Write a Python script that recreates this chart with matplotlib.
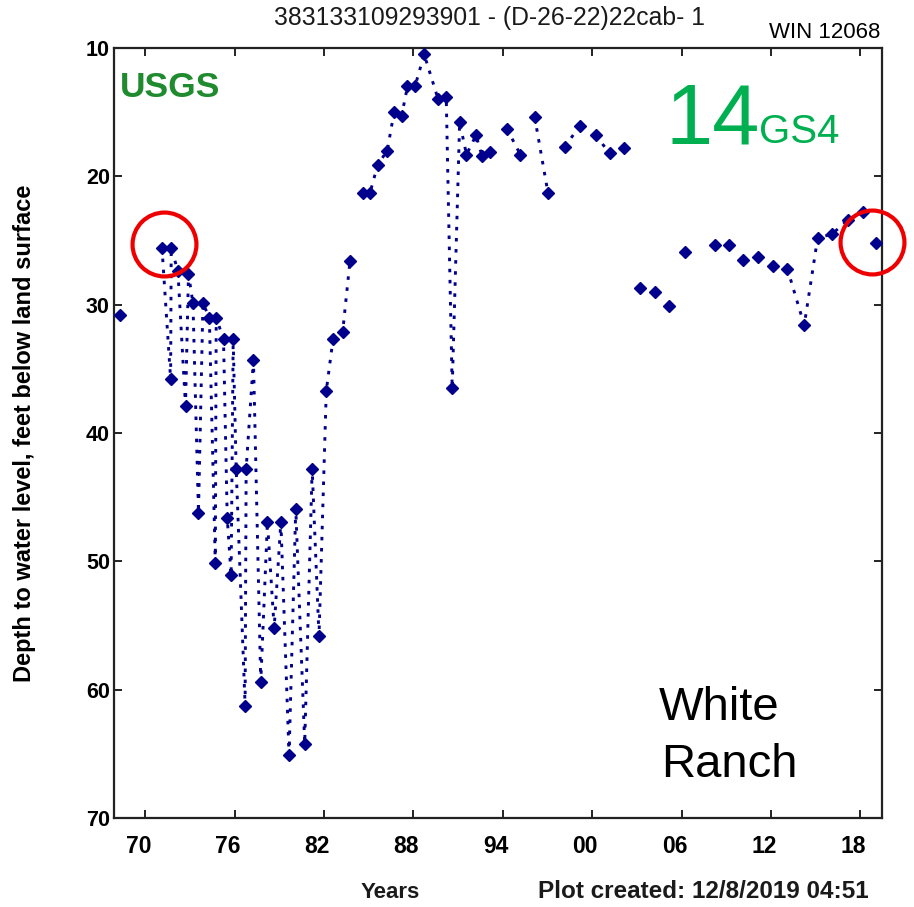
import numpy as np
import matplotlib
matplotlib.use('Agg')
import matplotlib.pyplot as plt
from matplotlib import font_manager as fm
from matplotlib.transforms import ScaledTranslation

nan = np.nan

# Measurement dates (decimal years); NaN marks a gap in the record (no connecting line)
years = [1968.30, nan,
         1971.12, 1971.70, 1971.74, 1972.19, 1972.70, 1972.90, 1973.20, 1973.57,
         1973.87, 1974.30, 1974.70, 1974.76, 1975.25, 1975.50, 1975.76, 1975.90,
         1976.10, 1976.70, 1976.77, 1977.26, 1977.75, 1978.20, 1978.65, 1979.10,
         1979.65, 1980.10, 1980.70, 1981.20, 1981.66, 1982.15, 1982.60, 1983.25,
         1983.74, nan,
         1984.63, 1985.08, 1985.60, 1986.24, 1986.70, 1987.20, 1987.60, 1988.10,
         1988.72, 1989.66, 1990.20, 1990.60, 1991.10, 1991.56, 1992.20, 1992.60,
         1993.17, nan,
         1994.28, 1995.17, nan, 1996.14, 1997.03, nan, 1998.15, 1999.15, nan,
         2000.23, 2001.17, 2002.10, nan, 2003.20, nan, 2004.18, nan, 2005.12, nan,
         2006.24, nan, 2008.25, nan, 2009.20, nan, 2010.15, nan, 2011.10, nan,
         2012.16, nan,
         2013.10, 2014.23, 2015.13, 2016.10, 2017.15, 2018.15, nan, 2019.05]

# Depth to water level, feet below land surface
depth_ft = [30.8, nan,
            25.55, 35.8, 25.55, 27.4, 37.9, 27.6, 29.9, 46.2,
            29.9, 31.0, 50.1, 31.0, 32.7, 46.6, 51.1, 32.7,
            42.8, 61.25, 42.8, 34.3, 59.4, 46.9, 55.2, 46.9,
            65.1, 45.9, 64.2, 42.8, 55.8, 36.7, 32.7, 32.1,
            26.6, nan,
            21.3, 21.3, 19.1, 18.0, 15.0, 15.3, 13.0, 13.0,
            10.5, 14.0, 13.8, 36.5, 15.8, 18.3, 16.8, 18.4,
            18.1, nan,
            16.3, 18.3, nan, 15.4, 21.3, nan, 17.7, 16.1, nan,
            16.8, 18.2, 17.8, nan, 28.7, nan, 29.0, nan, 30.1, nan,
            25.9, nan, 25.35, nan, 25.35, nan, 26.5, nan, 26.3, nan,
            27.0, nan,
            27.2, 31.6, 24.8, 24.5, 23.4, 22.8, nan, 25.2]

xtick_years = [1970, 1976, 1982, 1988, 1994, 2000, 2006, 2012, 2018]
xtick_labels = ['70', '76', '82', '88', '94', '00', '06', '12', '18']
ytick_values = [10, 20, 30, 40, 50, 60, 70]

# Red highlight circles (year, depth)
highlight_years = [1971.23, 2018.81]
highlight_depths = [25.3, 25.1]

names = {f.name for f in fm.fontManager.ttflist}
base = 'Liberation Sans' if 'Liberation Sans' in names else 'DejaVu Sans'
narrow = 'Liberation Sans Narrow' if 'Liberation Sans Narrow' in names else base
plt.rcParams['font.family'] = [base, 'DejaVu Sans']

navy = '#00008c'
W, H = 914, 907
fig = plt.figure(figsize=(W / 100, H / 100), dpi=100)
fig.patch.set_facecolor('white')
ax = fig.add_axes([114 / W, 1 - 818 / H, (882 - 114) / W, (818 - 48) / H])

ax.plot(years, depth_ft, linestyle=(0, (1.2, 2.6)), color=navy, lw=2.1, zorder=2)
ax.plot(years, depth_ft, linestyle='none', marker='D', ms=6.0, color=navy,
        mec=navy, zorder=3)

ax.plot(highlight_years, highlight_depths, linestyle='none', marker='o', ms=46,
        mfc='none', mec='#ee0000', mew=3.0, clip_on=False, zorder=4)

ax.set_xlim(1967.9, 2019.45)
ax.set_ylim(70, 10)
ax.set_xticks(xtick_years)
ax.set_xticklabels(xtick_labels, family=[narrow, 'DejaVu Sans'], fontsize=16.5,
                   fontweight='bold')
ax.set_yticks(ytick_values)
ax.set_yticklabels([str(v) for v in ytick_values], family=[base, 'DejaVu Sans'],
                   fontsize=15.5, fontweight='bold')
ax.tick_params(axis='both', direction='in', length=6, width=1.4,
               top=True, right=True, color='#222222')
ax.tick_params(axis='x', pad=12)
ax.tick_params(axis='y', pad=3)
shift = ScaledTranslation(-7 / 100, 0, fig.dpi_scale_trans)
for lab in ax.get_xticklabels():
    lab.set_transform(lab.get_transform() + shift)
for sp in ax.spines.values():
    sp.set_linewidth(1.6)
    sp.set_color('#222222')

ax.set_ylabel('Depth to water level, feet below land surface', fontsize=17,
              fontweight='bold')
ax.yaxis.set_label_coords(-(114 - 36) / (882 - 114), 0.5)

fig.text(490 / W, 1 - 18 / H, '383133109293901 - (D-26-22)22cab- 1',
         ha='center', va='center', fontsize=17.8, family=[narrow, 'DejaVu Sans'],
         color='#1a1a1a')
fig.text(880 / W, 1 - 32 / H, 'WIN 12068', ha='right', va='center', fontsize=16,
         color='black')
fig.text(390 / W, 1 - 892 / H, 'Years', ha='center', va='center', fontsize=16,
         fontweight='bold', family=[narrow, 'DejaVu Sans'], color='#1a1a1a')
fig.text(869 / W, 1 - 892 / H, 'Plot created: 12/8/2019 04:51', ha='right',
         va='center', fontsize=17.5, fontweight='bold',
         family=[narrow, 'DejaVu Sans'], color='#1a1a1a')

fig.text(120 / W, 1 - 97 / H, 'USGS', ha='left', va='baseline', fontsize=25.5,
         fontweight='bold', color='#1f8a2e')
fig.text(666 / W, 1 - 143 / H, '14', ha='left', va='baseline', fontsize=61,
         color='#00b050')
fig.text(759 / W, 1 - 143 / H, 'GS4', ha='left', va='baseline', fontsize=29,
         color='#00b050')
fig.text(659 / W, 1 - 720 / H, 'White', ha='left', va='baseline', fontsize=34,
         color='black')
fig.text(661 / W, 1 - 777 / H, 'Ranch', ha='left', va='baseline', fontsize=34,
         color='black')

fig.savefig('out.png', dpi=100, facecolor='white')
